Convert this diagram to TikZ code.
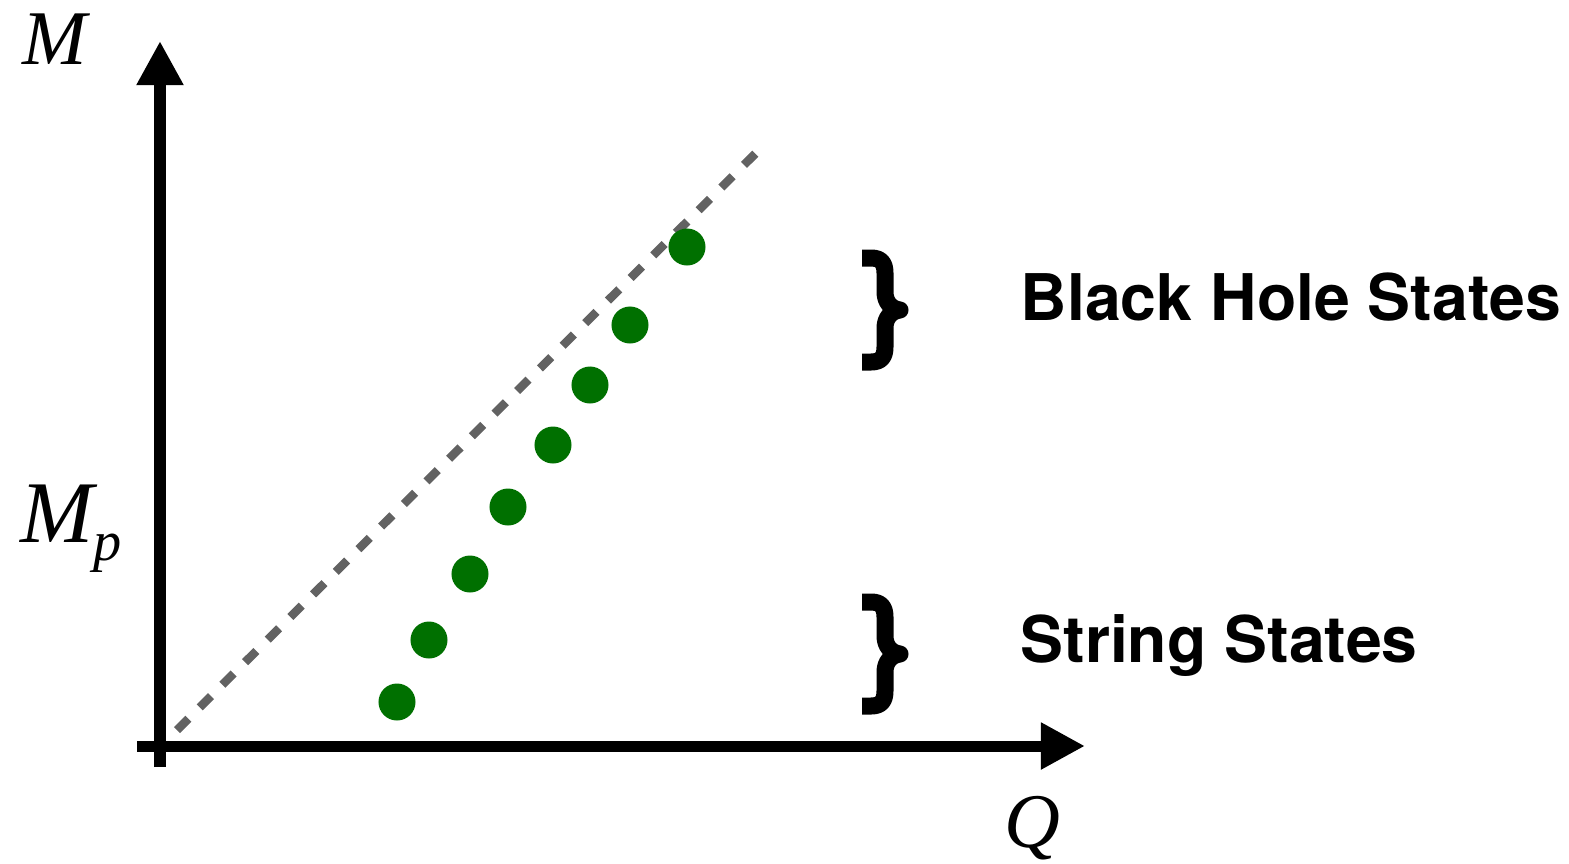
\documentclass[tikz,border=0pt]{standalone}
\usepackage{fontspec}
\setmainfont{Liberation Serif}
\newfontfamily\heros{TeX Gyre Heros}
\usetikzlibrary{arrows.meta}
\definecolor{dotgreen}{RGB}{0,112,0}
\definecolor{dashgray}{RGB}{98,98,98}
\tikzset{
  axis/.style={line width=0.11cm, -{Triangle[length=0.44cm,width=0.44cm]}},
  state/.style={circle, fill=dotgreen, inner sep=0pt, minimum size=0.37cm},
  brace/.style={line width=0.17cm, line join=round},
  label/.style={font=\heros\bfseries\fontsize{18.3}{18.3}\selectfont, inner sep=0pt, anchor=base west},
  axlabel/.style={font=\itshape\fontsize{22}{22}\selectfont, inner sep=0pt}
}
\begin{document}
\begin{tikzpicture}[x=0.01cm, y=-0.01cm]
    \useasboundingbox (0,0) rectangle (1569,863);
    % 坐标轴
    \coordinate (ybot) at (160,767);
    \coordinate (ytop) at (160,41);
    \coordinate (xleft) at (137,746);
    \coordinate (xright) at (1085,746);
    \draw[axis] (ybot) -- (ytop);
    \draw[axis] (xleft) -- (xright);
    \node[axlabel] (mlab) at (55,39) {M};
    \node[axlabel, font=\itshape\fontsize{25}{25}\selectfont, anchor=base west] (mplab) at (20,542)
        {M\raisebox{-0.18cm}{\fontsize{16}{16}\selectfont p}};
    \node[axlabel] (qlab) at (1032,828) {Q};

    % 极限线（虚线）
    \coordinate (ebot) at (177,730);
    \coordinate (etop) at (757,152);
    \draw[dashgray, line width=0.085cm, dash pattern=on 0.16cm off 0.16cm] (ebot) -- (etop);

    % 态
    \foreach \x/\y [count=\i] in {397/702, 429/640, 470/574, 508/507,
                                  553/445, 590/385, 630/325, 687/247}
        \node[state] (s\i) at (\x,\y) {};

    % 括号
    \foreach \dy in {0, 344} {
        \begin{scope}[shift={(0,\dy)}]
            \draw[brace] (862,258) -- (871,258) .. controls (881,258) and (885,263) .. (885,273)
                -- (885,292) .. controls (885,302) and (891,309) .. (900,310)
                .. controls (891,311) and (885,318) .. (885,328)
                -- (885,347) .. controls (885,357) and (881,362) .. (871,362) -- (862,362);
        \end{scope}
    }

    % 说明
    \node[label] (bhlab) at (1020,320) {Black Hole States};
    \node[label] (stlab) at (1020,662) {String States};
\end{tikzpicture}
\end{document}
